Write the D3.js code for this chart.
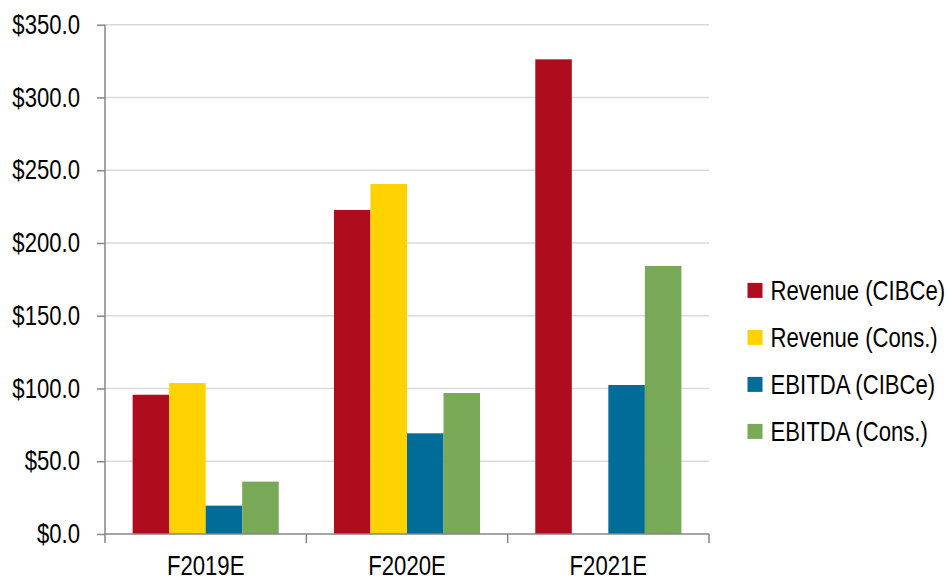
<!DOCTYPE html>
<html><head><meta charset="utf-8">
<script src="https://cdn.jsdelivr.net/npm/d3@7"></script>
<style>body{margin:0;background:#fff}svg{display:block}text{font-family:"Liberation Sans",Arial,sans-serif;fill:#000}</style>
</head><body>
<svg id="c" width="948" height="578"></svg>
<script>
const categories = ["F2019E", "F2020E", "F2021E"];
const seriesNames = ["Revenue (CIBCe)", "Revenue (Cons.)", "EBITDA (CIBCe)", "EBITDA (Cons.)"];
const revenueCIBC = [95.7, 222.7, 326.2];
const revenueCons = [103.8, 240.5, null];
const ebitdaCIBC = [19.5, 69.2, 102.4];
const ebitdaCons = [36.0, 96.9, 184.2];
const yTicks = [0, 50, 100, 150, 200, 250, 300, 350];
const colors = ["#AF0C1E", "#FFD200", "#006D98", "#77A956"];

const FONT = "'Liberation Sans',Arial,sans-serif";
const SX = 0.82; // condensed look
const values = [revenueCIBC, revenueCons, ebitdaCIBC, ebitdaCons];
const svg = d3.select("#c");
const x0 = 105, x1 = 709, yTop = 24.7, yBot = 534;
const x = d3.scaleBand().domain(categories).range([x0, x1]).paddingInner(0).paddingOuter(0);
const xs = d3.scaleBand().domain(d3.range(4)).range([0, x.bandwidth()]).paddingInner(0).paddingOuter(0.756);
const y = d3.scaleLinear().domain([0, 350]).range([yBot, yTop]);

function condense(sel) {
  sel.each(function () {
    const t = d3.select(this);
    const xv = +t.attr("x") || 0;
    t.attr("x", xv / SX).attr("transform", `scale(${SX},1)`);
  });
}

// gridlines
svg.append("g").selectAll("line").data(yTicks.filter(d => d > 0)).join("line")
  .attr("x1", x0).attr("x2", x1).attr("y1", d => y(d)).attr("y2", d => y(d))
  .attr("stroke", "#d9d9d9").attr("stroke-width", 1.5);

// bars
const groups = svg.append("g").selectAll("g").data(categories).join("g")
  .attr("transform", d => `translate(${x(d)},0)`);
groups.selectAll("rect").data((c, i) => values.map((s, k) => ({k, v: s[i]})).filter(d => d.v != null)).join("rect")
  .attr("x", d => xs(d.k)).attr("width", xs.bandwidth())
  .attr("y", d => y(d.v)).attr("height", d => yBot - y(d.v))
  .attr("fill", d => colors[d.k]);

// y axis
const yAxis = d3.axisLeft(y).tickValues(yTicks).tickSize(8).tickPadding(17).tickFormat(d => "$" + d3.format(".1f")(d));
const ga = svg.append("g").attr("transform", `translate(${x0},0)`).call(yAxis);
ga.select(".domain").attr("stroke", "#868686").attr("stroke-width", 1.5).attr("d", `M0,${yTop}V${yBot}`);
ga.selectAll(".tick line").attr("stroke", "#868686").attr("stroke-width", 1.5);
ga.selectAll(".tick text").attr("font-size", 27).attr("font-family", FONT).attr("fill", "#000").call(condense);

// x axis
const xAxis = d3.axisBottom(x).tickSize(0).tickPadding(22);
const gx = svg.append("g").attr("transform", `translate(0,${yBot})`).call(xAxis);
gx.select(".domain").attr("stroke", "#868686").attr("stroke-width", 1.5).attr("d", `M${x0},0H${x1}`);
gx.selectAll(".tick text").attr("font-size", 27).attr("font-family", FONT).attr("fill", "#000").call(condense);
const bounds = categories.map(c => x(c)).concat([x1]);
gx.selectAll("line.sep").data(bounds).join("line").attr("class", "sep")
  .attr("x1", d => d).attr("x2", d => d).attr("y1", 0).attr("y2", 9)
  .attr("stroke", "#868686").attr("stroke-width", 1.5);

// legend
const leg = svg.append("g").selectAll("g").data(seriesNames).join("g")
  .attr("transform", (d, i) => `translate(747.5,${290.4 + i * 47})`);
leg.append("rect").attr("x", 0).attr("y", -7.5).attr("width", 15).attr("height", 15).attr("fill", (d, i) => colors[i]);
leg.append("text").attr("x", 23).attr("y", 0).attr("dy", "0.36em").attr("font-size", 27).attr("font-family", FONT).text(d => d).call(condense);
</script>
</body></html>
